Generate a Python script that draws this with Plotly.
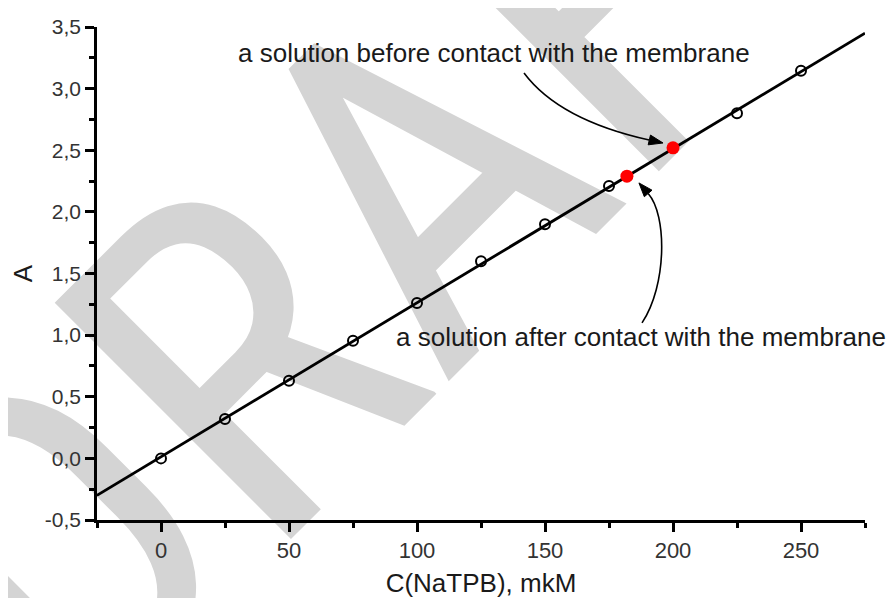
import plotly.graph_objects as go

# ---- data ----
conc = [0, 25, 50, 75, 100, 125, 150, 175, 225, 250]
absorb = [0.00, 0.32, 0.63, 0.955, 1.26, 1.60, 1.90, 2.21, 2.80, 3.145]
red_x = [182.0, 200.0]
red_y = [2.29, 2.52]
fit_x = [-25, 275]
fit_y = [-0.30, 3.45]

x_tickvals = [0, 50, 100, 150, 200, 250]
x_ticktext = ["0", "50", "100", "150", "200", "250"]
y_tickvals = [-0.5, 0.0, 0.5, 1.0, 1.5, 2.0, 2.5, 3.0, 3.5]
y_ticktext = ["-0,5", "0,0", "0,5", "1,0", "1,5", "2,0", "2,5", "3,0", "3,5"]

FONT = "Arial"

fig = go.Figure()
fig.add_trace(go.Scatter(x=fit_x, y=fit_y, mode="lines",
                         line=dict(color="black", width=2.8), hoverinfo="skip"))
fig.add_trace(go.Scatter(x=conc, y=absorb, mode="markers",
                         marker=dict(symbol="circle-open", size=10, color="black",
                                     line=dict(width=2, color="black"))))
fig.add_trace(go.Scatter(x=red_x, y=red_y, mode="markers",
                         marker=dict(symbol="circle", size=13, color="#ff0000")))

# watermark (below traces)
fig.add_shape(type="rect", xref="paper", yref="paper",
              x0=0.374, x1=0.376, y0=0.709, y1=0.711,
              line=dict(width=0), fillcolor="rgba(0,0,0,0)", layer="below",
              label=dict(text="DRAFT", textangle=-45, textposition="middle center",
                         font=dict(family="Roboto Condensed, Arial", size=470, color="#d4d4d4")))

# arrow 1 (before contact)
fig.add_shape(type="path", xref="x", yref="y",
              path="M 141.8,3.127 Q 155.5,2.746 190.7,2.583",
              line=dict(color="black", width=1.6))
fig.add_shape(type="path", xref="x", yref="y",
              path="M 196.1,2.559 L 190.3,2.544 L 191.2,2.623 Z",
              line=dict(color="black", width=1), fillcolor="black")
# arrow 2 (after contact)
fig.add_shape(type="path", xref="x", yref="y",
              path="M 187.9,1.099 C 197.7,1.407 197.7,1.975 190.3,2.149",
              line=dict(color="black", width=1.6))
fig.add_shape(type="path", xref="x", yref="y",
              path="M 186.7,2.235 L 191.8,2.176 L 188.8,2.123 Z",
              line=dict(color="black", width=1), fillcolor="black")

fig.add_annotation(x=130, y=3.29, xref="x", yref="y", showarrow=False,
                   text="a solution before contact with the membrane",
                   font=dict(family=FONT, size=26, color="#1a1a1a"))
fig.add_annotation(x=187.5, y=0.985, xref="x", yref="y", showarrow=False,
                   text="a solution after contact with the membrane",
                   font=dict(family=FONT, size=26, color="#1a1a1a"))

axis_common = dict(showgrid=False, zeroline=False, showline=True, linecolor="black",
                   linewidth=2.5, ticks="outside", tickcolor="black", tickwidth=2.5,
                   ticklen=9, mirror=False)

fig.update_xaxes(range=[-25, 275], tickmode="array", tickvals=x_tickvals,
                 ticktext=x_ticktext, tickfont=dict(family=FONT, size=22, color="#333333"),
                 title=dict(text="C(NaTPB), mkM", font=dict(family=FONT, size=26, color="#1a1a1a"),
                            standoff=14),
                 minor=dict(tickmode="linear", tick0=-25, dtick=25, ticklen=5,
                            tickwidth=2.5, tickcolor="black", ticks="outside"),
                 **axis_common)
fig.update_yaxes(range=[-0.5, 3.5], tickmode="array", tickvals=y_tickvals,
                 ticktext=y_ticktext, tickfont=dict(family=FONT, size=21, color="#333333"),
                 title=dict(text="A", font=dict(family=FONT, size=26, color="#1a1a1a"),
                            standoff=24),
                 minor=dict(tickmode="linear", tick0=-0.5, dtick=0.25, ticklen=5,
                            tickwidth=2.5, tickcolor="black", ticks="outside"),
                 **axis_common)

# the page adds an 8px body margin, so the figure is 8px smaller on each axis
fig.update_layout(width=888, height=590, showlegend=False,
                  margin=dict(l=89, r=31, t=19, b=78, autoexpand=False),
                  paper_bgcolor="white", plot_bgcolor="rgba(0,0,0,0)")

fig.write_html("out.html")
